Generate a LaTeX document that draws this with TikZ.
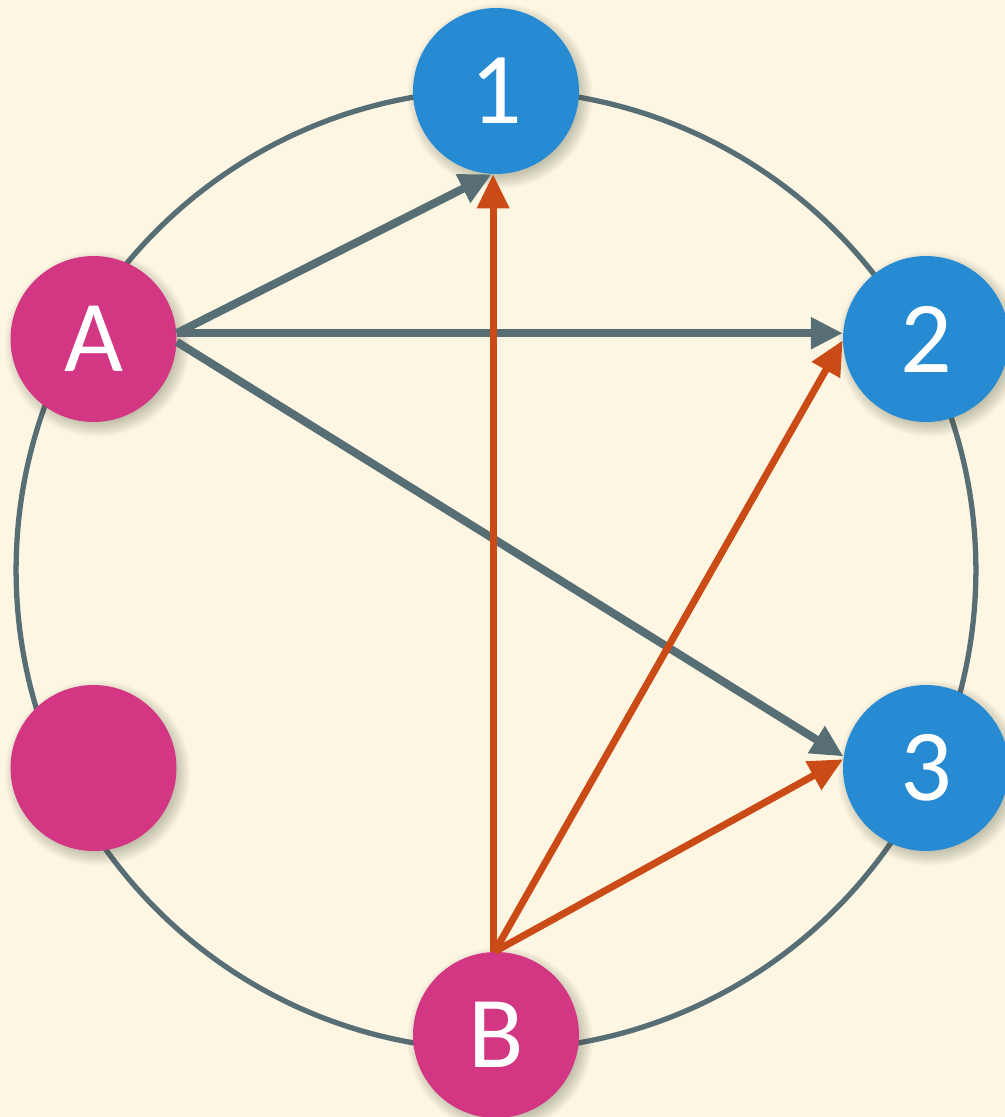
\documentclass[tikz,border=0pt]{standalone}
\usepackage{fontspec}
\setmainfont{Carlito}
\usetikzlibrary{arrows.meta}
\definecolor{bgcol}{HTML}{FDF6E3}
\definecolor{bluecol}{HTML}{268BD2}
\definecolor{magcol}{HTML}{D33682}
\definecolor{orcol}{HTML}{CB4B16}
\definecolor{graycol}{HTML}{586E75}
\definecolor{shadecol}{HTML}{3A4630}
\tikzset{
  vert/.style={circle, minimum size=3.32cm, inner sep=0pt, text=white,
    font=\fontsize{58}{62}\selectfont},
  bluevert/.style={vert, fill=bluecol},
  magvert/.style={vert, fill=magcol},
  shadelayer/.style={fill=shadecol, opacity=0.032},
  ring/.style={draw=graycol, line width=3pt},
  grayarrow/.style={draw=graycol, line width=4.6pt, -{Triangle[length=0.64cm,width=0.6cm]}},
  orarrow/.style={draw=orcol, line width=4pt, -{Triangle[length=0.68cm,width=0.62cm]}}
}
\begin{document}
\begin{tikzpicture}[x=0.02cm,y=-0.02cm]
\fill[bgcol] (0,0) rectangle (1005,1117);
\useasboundingbox (0,0) rectangle (1005,1117);
\coordinate (p1) at (496,91);
\coordinate (p2) at (926,339);
\coordinate (p3) at (926,768);
\coordinate (pA) at (93.5,339);
\coordinate (pC) at (93.5,768);
\coordinate (pB) at (496,1035);
\draw[ring] (496,570) circle[radius=9.6cm];
\foreach \p in {p1,p2,p3,pA,pC,pB}{
  \foreach \k in {0,...,11}{
    \fill[shadelayer] ([xshift=0.08cm,yshift=-0.1cm]\p) circle[radius={1.52cm+0.03cm*\k}];
  }
}
\node[bluevert] (n1) at (p1) {1};
\node[bluevert] (n2) at (p2) {2};
\node[bluevert] (n3) at (p3) {3};
\node[magvert] (nA) at (pA) {A};
\node[magvert] (nC) at (pC) {};
\node[magvert] (nB) at (pB) {B};
\draw[grayarrow] (nA.4) -- (n1.-93);
\draw[grayarrow] (nA.4) -- (n2.176);
\draw[grayarrow] (nA.-2) -- (n3.172);
\draw[orarrow] (nB.92) -- (n1.-92);
\draw[orarrow] (nB.91) -- (n2.181);
\draw[orarrow] (nB.91) -- (n3.174);
\end{tikzpicture}
\end{document}
